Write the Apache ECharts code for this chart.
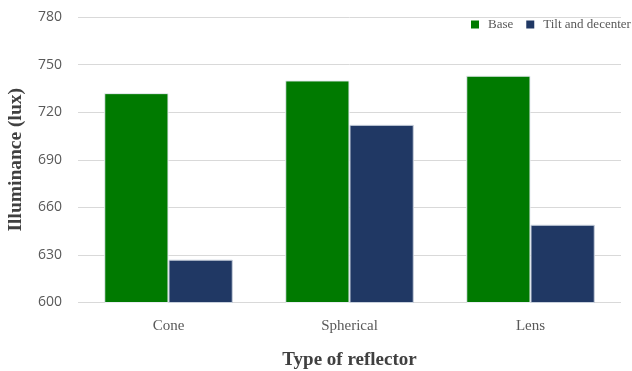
<!DOCTYPE html>
<html>
<head>
<meta charset="utf-8">
<script src="https://cdn.jsdelivr.net/npm/echarts@6/dist/echarts.min.js"></script>
<style>
  html, body { margin: 0; padding: 0; background: #fff; }
  #chart { width: 632px; height: 371px; }
</style>
</head>
<body>
<div id="chart"></div>
<script>
// Reflector types and measured illuminance (lux)
const categories = ['Cone', 'Spherical', 'Lens'];
const baseValues = [732, 740, 743];
const tiltValues = [627, 712, 649];
const seriesNames = ['Base', 'Tilt and decenter'];
const yTicks = { min: 600, max: 780, interval: 30 };

const serif = '"Liberation Serif", "Times New Roman", serif';
const sans = '"Open Sans", "Noto Sans", sans-serif';

const chart = echarts.init(document.getElementById('chart'));
chart.setOption({
  animation: false,
  grid: { left: 78, right: 11, top: 17, bottom: 68.5, outerBoundsMode: 'none', containLabel: false },
  legend: {
    data: seriesNames,
    orient: 'horizontal',
    left: 466,
    top: 13,
    width: 400,
    itemWidth: 8,
    itemHeight: 8,
    itemGap: 13,
    icon: 'rect',
    itemStyle: { borderWidth: 0 },
    textStyle: { fontFamily: serif, fontSize: 13, color: '#595959', padding: [0, 0, 0, 4] }
  },
  xAxis: {
    type: 'category',
    data: categories,
    axisLine: { show: false },
    axisTick: { show: false },
    axisLabel: { fontFamily: serif, fontSize: 15, color: '#595959', margin: 16 },
    name: 'Type of reflector',
    nameLocation: 'middle',
    nameGap: 48,
    nameTextStyle: { fontFamily: serif, fontSize: 19, fontWeight: 'bold', color: '#404040' }
  },
  yAxis: {
    type: 'value',
    min: yTicks.min,
    max: yTicks.max,
    interval: yTicks.interval,
    axisLine: { show: false },
    axisTick: { show: false },
    splitLine: { lineStyle: { color: '#d9d9d9', width: 1 } },
    axisLabel: { fontFamily: sans, fontSize: 14, color: '#595959', margin: 16 },
    name: 'Illuminance (lux)',
    nameLocation: 'middle',
    nameGap: 52,
    nameTextStyle: { fontFamily: serif, fontSize: 19.5, fontWeight: 'bold', color: '#404040' }
  },
  series: [
    {
      name: seriesNames[0],
      type: 'bar',
      data: baseValues,
      barGap: '0%',
      barCategoryGap: '29%',
      itemStyle: { color: '#007A00', borderColor: '#e8ecf2', borderWidth: 1 }
    },
    {
      name: seriesNames[1],
      type: 'bar',
      data: tiltValues,
      itemStyle: { color: '#203864', borderColor: '#c8d0dc', borderWidth: 1 }
    }
  ]
});
</script>
</body>
</html>
